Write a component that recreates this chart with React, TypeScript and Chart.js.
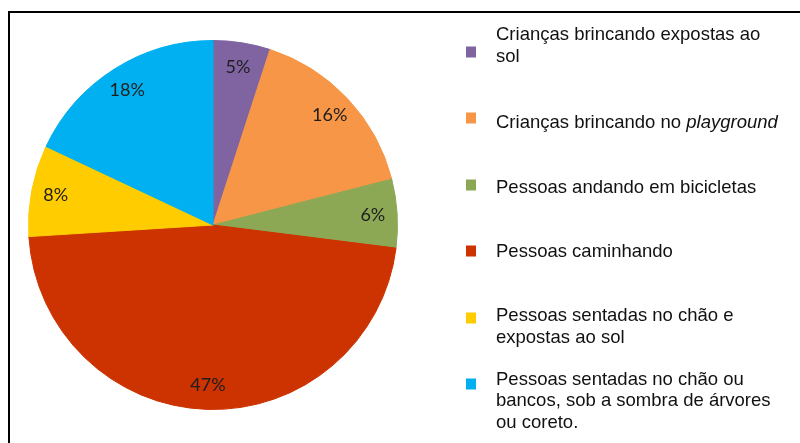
import React, { useEffect, useRef } from "react";
import { Chart, registerables } from "chart.js";

Chart.register(...registerables);

const categories: string[][] = [
  ["Crianças brincando expostas ao", "sol"],
  ["Crianças brincando no |playground"],
  ["Pessoas andando em bicicletas"],
  ["Pessoas caminhando"],
  ["Pessoas sentadas no chão e", "expostas ao sol"],
  ["Pessoas sentadas no chão ou", "bancos, sob a sombra de árvores", "ou coreto."],
];
const values: number[] = [5, 16, 6, 47, 8, 18];
const colors: string[] = ["#8064A2", "#F79646", "#8DA855", "#CC3300", "#FFCC00", "#00B0F0"];

// legend layout (first-line baseline, marker centre)
const legendBaselines: number[] = [40, 128, 192.5, 256.5, 321, 384.5];
const legendMarkerY: number[] = [52, 118, 185, 251, 318, 384];
const legendLineGap = 21.5;

const framePlugin = {
  id: "frame",
  beforeDraw(chart: any) {
    const ctx = chart.ctx;
    ctx.save();
    ctx.fillStyle = "#ffffff";
    ctx.fillRect(0, 0, chart.width, chart.height);
    ctx.strokeStyle = "#000000";
    ctx.lineWidth = 2;
    ctx.beginPath();
    ctx.moveTo(9, chart.height);
    ctx.lineTo(9, 12);
    ctx.lineTo(chart.width, 12);
    ctx.stroke();
    ctx.restore();
  },
};

const labelPlugin = {
  id: "sliceLabels",
  afterDatasetsDraw(chart: any) {
    const ctx = chart.ctx;
    const meta = chart.getDatasetMeta(0);
    ctx.save();
    ctx.font = "18px Lato, 'Open Sans', sans-serif";
    ctx.fillStyle = "#1e1e1e";
    ctx.textAlign = "center";
    ctx.textBaseline = "middle";
    meta.data.forEach((arc: any, i: number) => {
      const p = arc.getProps(["x", "y", "startAngle", "endAngle", "outerRadius"], true);
      const mid = (p.startAngle + p.endAngle) / 2;
      const r = p.outerRadius * 0.868;
      ctx.fillText(values[i] + "%", p.x + Math.cos(mid) * r, p.y + Math.sin(mid) * r);
    });
    ctx.restore();
  },
};

const legendPlugin = {
  id: "customLegend",
  afterDraw(chart: any) {
    const ctx = chart.ctx;
    ctx.save();
    const normal = "18.5px 'Liberation Sans', Arial, sans-serif";
    const italic = "italic 18.5px 'Liberation Sans', Arial, sans-serif";
    ctx.textBaseline = "alphabetic";
    ctx.textAlign = "left";
    categories.forEach((lines, i) => {
      ctx.fillStyle = colors[i];
      ctx.fillRect(466, legendMarkerY[i] - 5.5, 10, 11);
      ctx.fillStyle = "#111111";
      lines.forEach((line, j) => {
        const y = legendBaselines[i] + j * legendLineGap;
        const parts = line.split("|");
        let x = 496;
        parts.forEach((part, k) => {
          ctx.font = k === 0 ? normal : italic;
          ctx.fillText(part, x, y);
          x += ctx.measureText(part).width;
        });
      });
    });
    ctx.restore();
  },
};

export default function App() {
  const ref = useRef<HTMLCanvasElement | null>(null);
  useEffect(() => {
    if (!ref.current) return;
    const chart = new Chart(ref.current, {
      type: "pie",
      data: {
        labels: categories.map((l) => l.join(" ").replace("|", "")),
        datasets: [
          {
            data: values,
            backgroundColor: colors,
            borderColor: colors,
            borderWidth: 1,
          },
        ],
      },
      options: {
        responsive: false,
        animation: false,
        devicePixelRatio: 1,
        layout: { padding: { left: 28, top: 40, right: 402, bottom: 33 } },
        plugins: {
          legend: { display: false },
          tooltip: { enabled: false },
        },
      },
      plugins: [framePlugin, labelPlugin, legendPlugin],
    });
    return () => chart.destroy();
  }, []);
  return (
    <div style={{ position: "absolute", left: 0, top: 0, width: 800, height: 443 }}>
      <canvas ref={ref} width={800} height={443} style={{ display: "block" }} />
    </div>
  );
}
